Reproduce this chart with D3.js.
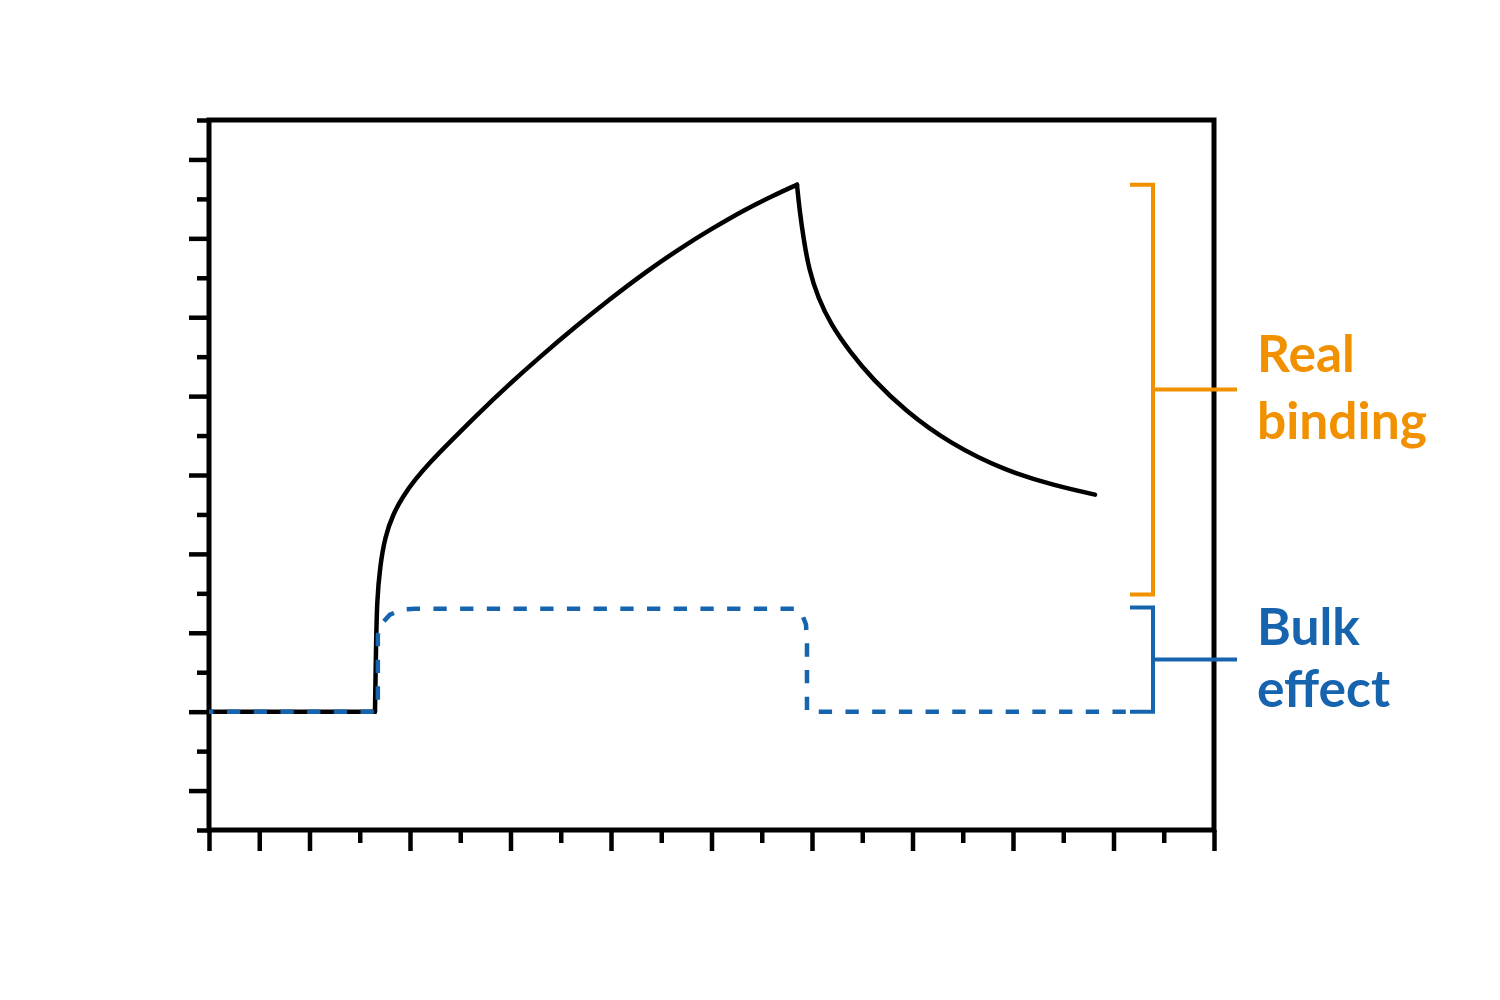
<!DOCTYPE html>
<html>
<head>
<meta charset="utf-8">
<script src="https://cdn.jsdelivr.net/npm/d3@7"></script>
<style>
  html, body { margin: 0; padding: 0; background: #fff; }
  svg { display: block; }
</style>
</head>
<body>
<svg id="chart" width="1500" height="1000"></svg>
<script>
// ---- Data ----
const xMajorTicks = [0, 1, 2, 4, 6, 8, 10, 12, 14, 16, 18, 20];
const xMinorTicks = [3, 5, 7, 9, 11, 13, 15, 17, 19];
const yMajorTicks = [-2, 0, 2, 4, 6, 8, 10, 12, 14];
const yMinorTicks = [-3, -1, 1, 3, 5, 7, 9, 11, 13, 15];

// Total response (black solid)
const totalX = [0, 3.303, 3.323, 3.343, 3.403, 3.502, 3.662, 3.861, 4.100, 4.398, 4.796, 5.353, 5.950, 6.587, 7.284, 7.980,
                8.677, 9.373, 10.010, 10.667, 11.204, 11.701,
                11.751, 11.835, 11.940, 12.119, 12.378, 12.752, 13.214, 13.851, 14.746, 15.841, 16.836, 17.632];
const totalY = [0, 0, 1.572, 2.839, 3.676, 4.437, 5.005, 5.461, 5.887, 6.323, 6.840, 7.550, 8.272, 8.995, 9.751, 10.460,
                11.135, 11.746, 12.248, 12.732, 13.069, 13.360,
                12.727, 11.966, 11.206, 10.496, 9.812, 9.127, 8.417, 7.631, 6.794, 6.110, 5.730, 5.502];

// Bulk effect (blue dashed)
const bulkX = [0, 3.30, 3.36, 3.36, 3.42, 3.60, 3.86, 4.10, 11.66, 11.80, 11.88, 11.90, 11.90, 18.30];
const bulkY = [0, 0, 0.30, 1.95, 2.21, 2.46, 2.59, 2.61, 2.61, 2.48, 2.21, 1.83, 0, 0];

// Annotation brackets (data ranges)
const bracketLabels = [["Real", "binding"], ["Bulk", "effect"]];
const bracketLow = [2.97, 0];
const bracketHigh = [13.36, 2.64];
const bracketColors = ["#f29100", "#1664ad"];

// ---- Layout ----
const svg = d3.select("#chart");
const mLeft = 209, mRight = 1214, mTop = 120, mBottom = 830;
const x = d3.scaleLinear().domain([0, 20]).range([mLeft, mRight]);
const y = d3.scaleLinear().domain([-3, 15]).range([mBottom, mTop]);

const gAxes = svg.append("g");
function tickAxis(axis, tr) {
  const g = gAxes.append("g").attr("transform", tr).call(axis);
  g.select(".domain").remove();
  g.selectAll(".tick line").attr("stroke", "#000").attr("stroke-width", 4.5);
  g.selectAll(".tick text").remove();
}
tickAxis(d3.axisLeft(y).tickValues(yMajorTicks).tickSize(20).tickFormat(""), `translate(${mLeft},0)`);
tickAxis(d3.axisLeft(y).tickValues(yMinorTicks).tickSize(12).tickFormat(""), `translate(${mLeft},0)`);
tickAxis(d3.axisBottom(x).tickValues(xMajorTicks).tickSize(21).tickFormat(""), `translate(0,${mBottom})`);
tickAxis(d3.axisBottom(x).tickValues(xMinorTicks).tickSize(13).tickFormat(""), `translate(0,${mBottom})`);

// Frame
svg.append("rect")
  .attr("x", mLeft).attr("y", mTop)
  .attr("width", mRight - mLeft).attr("height", mBottom - mTop)
  .attr("fill", "none").attr("stroke", "#000").attr("stroke-width", 5);

// Lines
const totalData = totalX.map((d, i) => [d, totalY[i]]);
const bulkData = bulkX.map((d, i) => [d, bulkY[i]]);

// split total curve: baseline (linear), association and dissociation (smooth)
const stepIdx = 1;
const peakIdx = d3.maxIndex(totalY);
const segments = [
  { data: totalData.slice(0, stepIdx + 1), curve: d3.curveLinear },
  { data: totalData.slice(stepIdx, peakIdx + 1), curve: d3.curveBasis },
  { data: totalData.slice(peakIdx), curve: d3.curveBasis }
];
segments.forEach(s => {
  svg.append("path")
    .datum(s.data)
    .attr("d", d3.line().x(d => x(d[0])).y(d => y(d[1])).curve(s.curve))
    .attr("fill", "none")
    .attr("stroke", "#000")
    .attr("stroke-width", 4.5)
    .attr("stroke-linecap", "round")
    .attr("stroke-linejoin", "round");
});

svg.append("path")
  .datum(bulkData)
  .attr("d", d3.line().x(d => x(d[0])).y(d => y(d[1])).curve(d3.curveLinear))
  .attr("fill", "none")
  .attr("stroke", bracketColors[1])
  .attr("stroke-width", 4.5)
  .attr("stroke-dasharray", "13.3,13.4")
  .attr("stroke-dashoffset", 8.7);

// Brackets
const bx0 = 1130, bx1 = 1153, bArm = 1237;
bracketLabels.forEach((lab, i) => {
  const yl = y(bracketLow[i]), yh = y(bracketHigh[i]), ym = (yl + yh) / 2;
  const g = svg.append("g").attr("stroke", bracketColors[i]).attr("stroke-width", 4).attr("fill", "none");
  g.append("path").attr("d", `M${bx0},${yh}H${bx1}V${yl}H${bx0}`);
  g.append("path").attr("d", `M${bx1},${ym}H${bArm}`);
});

// Labels
const labelPos = [[372, 439], [645, 707]];
bracketLabels.forEach((lab, i) => {
  lab.forEach((t, j) => {
    svg.append("text")
      .attr("x", 1257)
      .attr("y", labelPos[i][j])
      .attr("fill", bracketColors[i])
      .attr("font-family", "Lato, 'Open Sans', sans-serif")
      .attr("font-weight", "bold")
      .attr("font-size", 51.5)
      .text(t);
  });
});
</script>
</body>
</html>
